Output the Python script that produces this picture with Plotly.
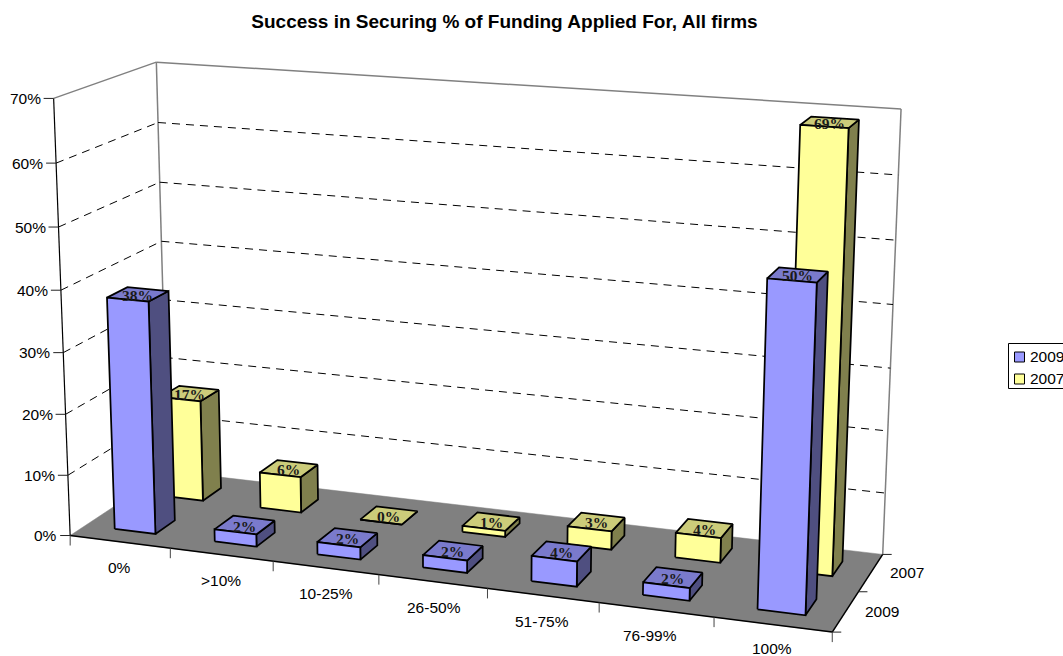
import numpy as np
import plotly.graph_objects as go

# ---------- data ----------
categories = ["0%", ">10%", "10-25%", "26-50%", "51-75%", "76-99%", "100%"]
series_names = ["2009", "2007"]
values_2009 = [38, 2, 2, 2, 4, 2, 50]
values_2007 = [17, 6, 0, 1, 3, 4, 69]
value_ticks = [0, 10, 20, 30, 40, 50, 60, 70]

# ---------- style ----------
COL = {
    "2009": dict(front="#9999FF", side="#4F4F80", top="#7A7ACC"),
    "2007": dict(front="#FFFF99", side="#80804D", top="#CCCC7A"),
}
FLOOR = "#808080"
W, H = 1063, 656
BAR_W = 0.41   # share of a category
BAR_D = 0.40   # share of a series slot
BAR_C = 0.50

# ---------- oblique-perspective scale: (category, series, value) -> axis coords ----------
world = [(0,0,0),(7,0,0),(7,2,0),(0,2,0),(0,0,70),(0,2,70),(7,2,70)]
image = [(71,536),(832,632),(883,554.5),(167,470.6),(53,98),(157,62.5),(901,109)]
A = []
for (X,Y,Z),(u,v) in zip(world,image):
    A.append([X,Y,Z,1,0,0,0,0,-u*X,-u*Y,-u*Z,-u])
    A.append([0,0,0,0,X,Y,Z,1,-v*X,-v*Y,-v*Z,-v])
P = np.linalg.svd(np.array(A,float))[2][-1].reshape(3,4)

def pr(X, Y, Z):
    h = P @ np.array([X, Y, Z, 1.0])
    return float(h[0]/h[2]), float(h[1]/h[2])

fig = go.Figure()

def poly(pts, fill, line="black", lw=1.75):
    xy = [pr(*p) for p in pts]
    xs = [q[0] for q in xy] + [xy[0][0]]
    ys = [q[1] for q in xy] + [xy[0][1]]
    fig.add_trace(go.Scatter(x=xs, y=ys, mode="lines", fill="toself", fillcolor=fill,
                             line=dict(color=line, width=lw), hoverinfo="skip", showlegend=False))

def seg(a, b, color="black", lw=1, dash=None, offset=None):
    ax, ay = pr(*a); bx, by = pr(*b)
    if offset:
        bx, by = ax + offset[0], ay + offset[1]
    fig.add_trace(go.Scatter(x=[ax,bx], y=[ay,by], mode="lines",
                             line=dict(color=color, width=lw, dash=dash),
                             hoverinfo="skip", showlegend=False))

# floor
poly([(0,0,0),(7,0,0),(7,2,0),(0,2,0)], FLOOR, line=FLOOR, lw=0.5)
# walls
seg((0,2,70),(7,2,70), "#808080", 1.5)
seg((0,0,70),(0,2,70), "#808080", 1.5)
seg((0,2,0),(0,2,70), "#808080", 1.5)
seg((7,2,0),(7,2,70), "#808080", 1.5)
# gridlines
for z in value_ticks[1:-1]:
    seg((0,0,z),(0,2,z), dash="8px,6px")
    seg((0,2,z),(7,2,z), dash="8px,6px")
# axes
seg((0,0,0),(7,0,0), lw=1.5)
seg((7,0,0),(7,2,0), lw=1.5)
seg((0,0,0),(0,0,70), lw=1.2)
for z in value_ticks:
    seg((0,0,z),(0,0,z), offset=(-10,0), color="#222222")
for i in range(8):
    seg((i,0,0),(i,0,0), offset=(0,10), color="#444444")
for j in range(3):
    seg((7,j,0),(7,j,0), offset=(9,0), color="#222222")

# bars: back series first
def bar(i, j, v, col):
    x0, x1 = i+BAR_C-BAR_W/2, i+BAR_C+BAR_W/2
    y0, y1 = j+0.5-BAR_D/2, j+0.5+BAR_D/2
    poly([(x1,y0,0),(x1,y1,0),(x1,y1,v),(x1,y0,v)], col["side"])
    poly([(x0,y0,v),(x1,y0,v),(x1,y1,v),(x0,y1,v)], col["top"])
    poly([(x0,y0,0),(x1,y0,0),(x1,y0,v),(x0,y0,v)], col["front"])

annos = []
def txt(x, y, s, size=15.5, family="Liberation Sans, Arial", xanchor="center", color="black", bold=False):
    annos.append(dict(x=x, y=y, xref="x", yref="y", text=f"<b>{s}</b>" if bold else s,
                      showarrow=False, xanchor=xanchor, yanchor="middle",
                      font=dict(size=size, family=family, color=color)))

for j, (name, vals) in reversed(list(enumerate(zip(series_names, [values_2009, values_2007])))):
    for i, v in enumerate(vals):
        bar(i, j, v, COL[name])
for j, vals in enumerate([values_2009, values_2007]):
    for i, v in enumerate(vals):
        x, y = pr(i+0.5, j+0.5, v)
        txt(x, y+1, f"{v}%", size=15.5, family="Liberation Serif, Times New Roman", color="#1a1a1a", bold=True)

# tick labels
for z in value_ticks:
    x, y = pr(0,0,z)
    txt(x-11, y, f"{z}%", xanchor="right")
cat_dx = [0, 0, 0, 1, -1, -6, -1]
for i, c in enumerate(categories):
    x, y = pr(i+0.5,0,0)
    txt(x+cat_dx[i], min(y+26, 648.5), c)
for j, s in enumerate(series_names):
    x, y = pr(7,j+0.5,0)
    txt(x+36, y, s)

# legend
shapes = [dict(type="rect", x0=1008.5, x1=1075, y0=343.5, y1=388.5, xref="x", yref="y",
               line=dict(color="black", width=1), fillcolor="white")]
for k, name in enumerate(series_names):
    yc = 357 + 22*k
    shapes.append(dict(type="rect", x0=1014.5, x1=1024.5, y0=yc-5, y1=yc+5, xref="x", yref="y",
                       line=dict(color="black", width=1), fillcolor=COL[name]["front"]))
    annos.append(dict(x=1028, y=yc-0.5, xref="x", yref="y", text=name, showarrow=False, xanchor="left",
                      yanchor="middle", font=dict(size=15.5, family="Liberation Sans, Arial", color="black")))

fig.update_layout(
    width=W, height=H, margin=dict(l=0, r=0, t=0, b=0), showlegend=False,
    paper_bgcolor="white", plot_bgcolor="white",
    title=dict(text="<b>Success in Securing % of Funding Applied For, All firms</b>",
               x=504.5/W, xanchor="center", y=1-21/H, yanchor="middle",
               font=dict(size=19, family="Liberation Sans, Arial", color="black")),
    xaxis=dict(range=[0, W], visible=False, fixedrange=True),
    yaxis=dict(range=[H, 0], visible=False, fixedrange=True),
    annotations=annos, shapes=shapes,
)
fig.write_html("out.html", config={"displayModeBar": False},
               post_script="document.body.style.margin='0';document.body.style.overflow='hidden';")
